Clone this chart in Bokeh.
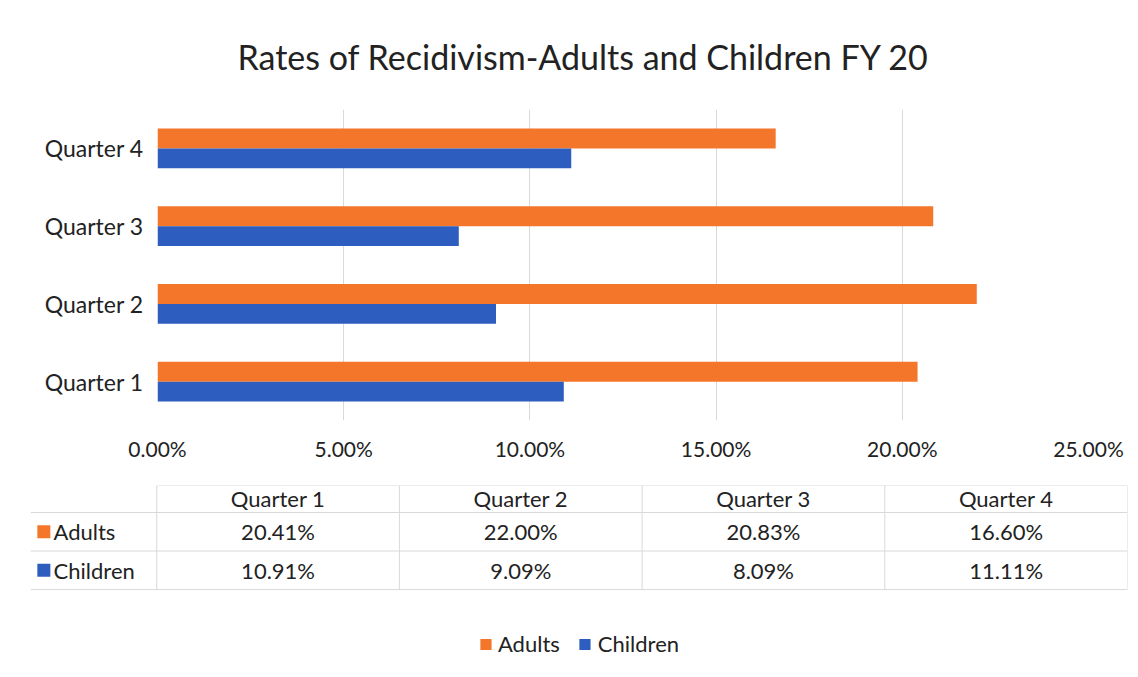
from bokeh.plotting import figure
from bokeh.models import (ColumnDataSource, FactorRange, Range1d, NumeralTickFormatter,
                          Legend, LegendItem, FixedTicker)
from bokeh.transform import dodge
from bokeh.layouts import column, row
from bokeh.embed import file_html
from bokeh.resources import INLINE
from bokeh.core.properties import value

# ---- data ----
quarters = ["Quarter 1", "Quarter 2", "Quarter 3", "Quarter 4"]
adults = [0.2041, 0.2200, 0.2083, 0.1660]
children = [0.1091, 0.0909, 0.0809, 0.1111]
series = ["Adults", "Children"]
x_ticks = [0.0, 0.05, 0.10, 0.15, 0.20, 0.25]
title_text = "Rates of Recidivism-Adults and Children FY 20"

ORANGE = "#F4762A"
BLUE = "#2D5DBE"
GRID = "#d9d9d9"
TEXT = "#222222"
FONT = "Lato"
FS = "22px"
W = 1138

# ---- bar chart ----
src = ColumnDataSource(dict(q=quarters, adults=adults, children=children))

p = figure(width=W, height=470, y_range=FactorRange(*quarters), x_range=Range1d(0, 0.25),
           output_backend="svg", toolbar_location=None,
           min_border_left=157, min_border_right=50, min_border_top=107, min_border_bottom=50)

p.title.text = title_text
p.title.align = "left"
p.title.offset = 80
p.title.vertical_align = "bottom"
p.title.standoff = 66
p.title.text_font = FONT
p.title.text_font_size = "34px"
p.title.text_font_style = "normal"
p.title.text_color = TEXT

bh = 0.256
p.hbar(y=dodge("q", bh / 2, range=p.y_range), right="adults", left=0, height=bh,
       source=src, color=ORANGE, line_color=None)
p.hbar(y=dodge("q", -bh / 2, range=p.y_range), right="children", left=0, height=bh,
       source=src, color=BLUE, line_color=None)

p.xaxis.ticker = FixedTicker(ticks=x_ticks)
p.xaxis.formatter = NumeralTickFormatter(format="0.00%")
for ax in (p.xaxis, p.yaxis):
    ax.axis_line_color = None
    ax.major_tick_line_color = None
    ax.minor_tick_line_color = None
    ax.major_label_text_font = FONT
    ax.major_label_text_color = TEXT
p.xaxis.major_label_text_font_size = "21px"
p.yaxis.major_label_text_font_size = "23px"
p.xaxis.major_label_standoff = 9
p.yaxis.major_label_standoff = 8
p.xgrid.ticker = FixedTicker(ticks=x_ticks)
p.xgrid.grid_line_color = GRID
p.ygrid.grid_line_color = None
p.outline_line_color = None

# ---- data table below (frame covers the whole lower panel) ----
top = 2.7
bottom = -2.28
p2 = figure(width=W, height=207, x_range=Range1d(-0.52, 4.0), y_range=Range1d(bottom, top),
            output_backend="svg", toolbar_location=None,
            min_border_left=30, min_border_right=11, min_border_top=15, min_border_bottom=0)
p2.axis.visible = False
p2.grid.grid_line_color = None
p2.outline_line_color = None

n = len(quarters)
col_centers = [i + 0.5 for i in range(n)]
header_y = 2.35
row_y = {"Adults": 1.5, "Children": 0.5}

# grid lines of the table
hx0 = [0] + [-0.52] * 3
hx1 = [n] * 4
hy = [top, 2.0, 1.0, 0.0]
p2.segment(x0=hx0, y0=hy, x1=hx1, y1=hy, line_color=GRID, line_width=1)
vx = list(range(n + 1))
p2.segment(x0=vx, y0=[0] * len(vx), x1=vx, y1=[top] * len(vx), line_color=GRID, line_width=1)

p2.text(x=col_centers, y=[header_y] * n, text=quarters, text_align="center",
        text_baseline="middle", text_font=value(FONT), text_font_size=FS, text_color=TEXT)

fmt = lambda v: f"{v * 100:.2f}%"
p2.text(x=col_centers, y=[row_y["Adults"]] * n, text=[fmt(v) for v in adults],
        text_align="center", text_baseline="middle", text_font=value(FONT),
        text_font_size=FS, text_color=TEXT)
p2.text(x=col_centers, y=[row_y["Children"]] * n, text=[fmt(v) for v in children],
        text_align="center", text_baseline="middle", text_font=value(FONT),
        text_font_size=FS, text_color=TEXT)

key_x = -0.465
lab_x = -0.425
r_a = p2.rect(x=[key_x], y=[row_y["Adults"]], width=13, height=13, width_units="screen",
              height_units="screen", color=ORANGE, line_color=None)
r_c = p2.rect(x=[key_x], y=[row_y["Children"]], width=13, height=13, width_units="screen",
              height_units="screen", color=BLUE, line_color=None)
p2.text(x=[lab_x, lab_x], y=[row_y[s] for s in series], text=series, text_align="left",
        text_baseline="middle", text_font=value(FONT), text_font_size=FS, text_color=TEXT)

legend = Legend(items=[LegendItem(label=series[0], renderers=[r_a]),
                       LegendItem(label=series[1], renderers=[r_c])],
                orientation="horizontal", location="bottom_center",
                border_line_color=None, background_fill_alpha=0,
                label_text_font=FONT, label_text_font_size=FS, label_text_color=TEXT,
                glyph_width=14, glyph_height=14, label_standoff=6, spacing=18,
                margin=20, padding=6)
p2.add_layout(legend)

layout = column(row(p), row(p2), spacing=0)
open("out.html", "w").write(file_html(layout, INLINE))
